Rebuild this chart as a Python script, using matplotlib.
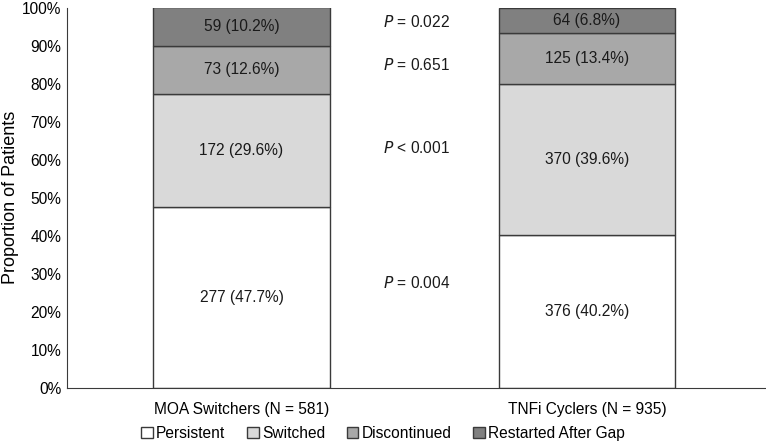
import matplotlib.pyplot as plt
from matplotlib.patches import Patch
import numpy as np

plt.rcParams['font.family'] = ['Liberation Sans', 'DejaVu Sans']

groups = ['MOA Switchers (N = 581)', 'TNFi Cyclers (N = 935)']
categories = ['Persistent', 'Switched', 'Discontinued', 'Restarted After Gap']
counts = {
    'Persistent': [277, 376],
    'Switched': [172, 370],
    'Discontinued': [73, 125],
    'Restarted After Gap': [59, 64],
}
percents = {
    'Persistent': [47.7, 40.2],
    'Switched': [29.6, 39.6],
    'Discontinued': [12.6, 13.4],
    'Restarted After Gap': [10.2, 6.8],
}
colors = ['#ffffff', '#d9d9d9', '#a8a8a8', '#808080']
p_labels = ['$P$ = 0.004', '$P$ < 0.001', '$P$ = 0.651', '$P$ = 0.022']
p_y = [27.7, 63, 85, 96.3]

FS = 11.2

fig = plt.figure(figsize=(7.66, 4.48), dpi=100)
ax = fig.add_axes([0.0875, 0.134, 0.911, 0.849])

x = np.arange(len(groups))
bottom = np.zeros(len(groups))
for cat, col in zip(categories, colors):
    vals = np.array(percents[cat])
    ax.bar(x, vals, 0.51, bottom=bottom, color=col, edgecolor='#3a3a3a', linewidth=1)
    for i in range(len(groups)):
        ax.text(x[i], bottom[i] + vals[i] / 2, f'{counts[cat][i]} ({vals[i]}%)',
                ha='center', va='center', fontsize=FS, color='#1a1a1a')
    bottom += vals

# P-values between the bars
for lab, yy in zip(p_labels, p_y):
    ax.text(0.41, yy, lab, ha='left', va='center', fontsize=FS, color='#1a1a1a')

ax.set_xlim(-0.505, 1.515)
ax.set_ylim(0, 100)
ax.set_yticks(np.arange(0, 101, 10))
ax.set_yticklabels([f'{v}%' for v in range(0, 101, 10)], fontsize=FS)
ax.set_xticks(x)
ax.set_xticklabels(groups, fontsize=FS)
ax.tick_params(axis='x', length=0, pad=10)
ax.tick_params(axis='y', length=0, pad=4)
ax.set_ylabel('Proportion of Patients', fontsize=13, labelpad=2)
for s in ['top', 'right']:
    ax.spines[s].set_visible(False)
for s in ['left', 'bottom']:
    ax.spines[s].set_color('#3a3a3a')

handles = [Patch(facecolor=c, edgecolor='#3a3a3a', label=l) for c, l in zip(colors, categories)]
fig.legend(handles=handles, loc='lower center', bbox_to_anchor=(0.5, -0.015), ncol=4,
           frameon=False, fontsize=FS, handlelength=0.75, handleheight=0.75,
           handletextpad=0.2, columnspacing=1.4)

fig.savefig('out.png', dpi=100)
